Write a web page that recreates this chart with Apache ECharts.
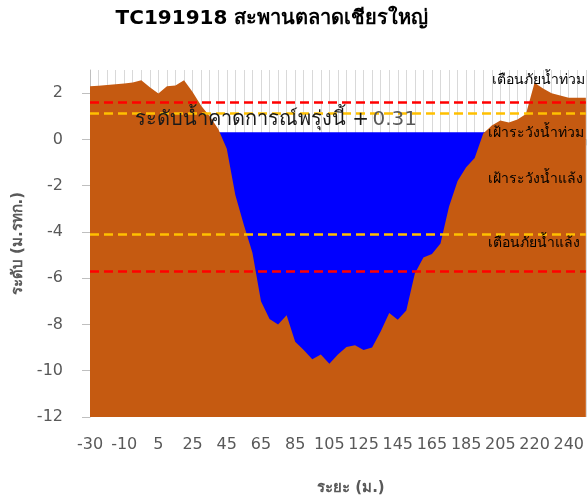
<!DOCTYPE html>
<html>
<head>
<meta charset="utf-8">
<script src="https://cdn.jsdelivr.net/npm/echarts@6/dist/echarts.min.js"></script>
<style>html,body{margin:0;padding:0;background:#fff;}#c{width:587px;height:501px;}</style>
</head>
<body>
<div id="c"></div>
<script>
const titleText = 'TC191918 สะพานตลาดเชียรใหญ่';
const xName = 'ระยะ (ม.)';
const yName = 'ระดับ (ม.รทก.)';
const categories = ['-30','-25','-20','-15','-10','-5','0','2','5','10','15','20','25','30','35','40','45','50','55','60','65','70','75','80','85','90','95','100','105','110','115','120','125','130','135','140','145','150','155','160','165','170','175','180','185','190','195','200','205','210','215','218','220','225','230','235','240','245','250'];
const terrain = [2.30,2.32,2.35,2.38,2.42,2.46,2.56,2.25,1.98,2.30,2.33,2.56,2.05,1.45,1.00,0.45,-0.40,-2.40,-3.70,-4.90,-7.00,-7.76,-8.00,-7.60,-8.75,-9.10,-9.50,-9.30,-9.70,-9.30,-8.97,-8.90,-9.10,-9.00,-8.30,-7.50,-7.80,-7.40,-5.80,-5.10,-4.95,-4.50,-2.90,-1.80,-1.20,-0.80,0.25,0.60,0.82,0.73,0.86,1.10,2.45,2.20,2.00,1.90,1.80,1.80,1.80];
const waterLevel = 0.31;
const floodWarn = 1.61;
const floodWatch = 1.15;
const droughtWatch = -4.12;
const droughtWarn = -5.70;
const yTicks = [-12,-10,-8,-6,-4,-2,0,2];
const levelLabels = ['เตือนภัยน้ำท่วม','เฝ้าระวังน้ำท่วม','เฝ้าระวังน้ำแล้ง','เตือนภัยน้ำแล้ง'];

// water fills the channel where the bed is below the water level (plus one neighbour each side, hidden by the bank)
const water = terrain.map((v, i) => {
  const near = [terrain[i-1], v, terrain[i+1]].some(t => t !== undefined && t < waterLevel);
  return near ? waterLevel : null;
});

const FONT = 'Tahoma, "DejaVu Sans", "Noto Sans", sans-serif';
const chart = echarts.init(document.getElementById('c'), null, {renderer: 'canvas'});
const option = {
  animation: false,
  grid: {left: 90, right: 0, top: 70, bottom: 83},
  xAxis: {
    type: 'category', data: categories, boundaryGap: false,
    axisLine: {lineStyle: {color: '#bfbfbf'}},
    axisTick: {interval: 0, length: 6, lineStyle: {color: '#bfbfbf'}},
    axisLabel: {interval: 3, color: '#595959', fontSize: 16, margin: 20, fontFamily: FONT},
    splitLine: {show: true, interval: 0, lineStyle: {color: '#d9d9d9'}},
    name: xName, nameLocation: 'middle', nameGap: 64,
    nameTextStyle: {color: '#595959', fontSize: 15, fontWeight: 'bold', fontFamily: FONT, padding: [0, 0, 0, 26]}
  },
  yAxis: {
    type: 'value', min: -12, max: 3, interval: 2,
    axisLine: {show: true, lineStyle: {color: '#bfbfbf'}},
    axisTick: {show: true, length: 8, customValues: yTicks, lineStyle: {color: '#bfbfbf'}},
    axisLabel: {customValues: yTicks, color: '#595959', fontSize: 16, margin: 27, fontFamily: FONT},
    splitLine: {show: false},
    name: yName, nameLocation: 'middle', nameGap: 58,
    nameTextStyle: {color: '#595959', fontSize: 15, fontWeight: 'bold', fontFamily: FONT}
  },
  series: [
    {type: 'line', data: water, symbol: 'none', lineStyle: {width: 0}, z: 2,
     areaStyle: {color: '#0000FF', opacity: 1, origin: 'start'}},
    {type: 'line', data: terrain, symbol: 'none', lineStyle: {width: 0}, z: 3,
     areaStyle: {color: '#C55A11', opacity: 1, origin: 'start'},
     markLine: {
       silent: true, symbol: 'none', label: {show: false}, animation: false,
       lineStyle: {type: [9, 5], width: 2.5},
       data: [
         {yAxis: floodWarn, lineStyle: {color: '#FF0000'}},
         {yAxis: floodWatch, lineStyle: {color: '#FFC000'}},
         {yAxis: droughtWatch, lineStyle: {color: '#FFC000'}},
         {yAxis: droughtWarn, lineStyle: {color: '#FF0000'}}
       ]
     }}
  ],
  graphic: [
    {type: 'text', x: 272, y: 19, z: 10, style: {text: titleText, align: 'center', verticalAlign: 'middle', font: 'bold 20px ' + FONT, fill: '#000'}},
    {type: 'text', x: 135, y: 120, z: 10, style: {
      text: '{a|ระดับน้ำคาดการณ์พรุ่งนี้ +} {b|' + waterLevel.toFixed(2) + '}', verticalAlign: 'middle',
      rich: {a: {fontSize: 20, fontFamily: FONT, fill: '#1a1a1a'}, b: {fontSize: 20, fontFamily: FONT, fill: '#595959'}}}},
    {type: 'text', x: 492, y: 80, z: 10, style: {text: levelLabels[0], verticalAlign: 'middle', font: '14px ' + FONT, fill: '#000'}},
    {type: 'text', x: 488, y: 133, z: 10, style: {text: levelLabels[1], verticalAlign: 'middle', font: '14px ' + FONT, fill: '#000'}},
    {type: 'text', x: 488, y: 179, z: 10, style: {text: levelLabels[2], verticalAlign: 'middle', font: '14px ' + FONT, fill: '#000'}},
    {type: 'text', x: 488, y: 243, z: 10, style: {text: levelLabels[3], verticalAlign: 'middle', font: '14px ' + FONT, fill: '#000'}}
  ]
};
chart.setOption(option);
</script>
</body>
</html>
